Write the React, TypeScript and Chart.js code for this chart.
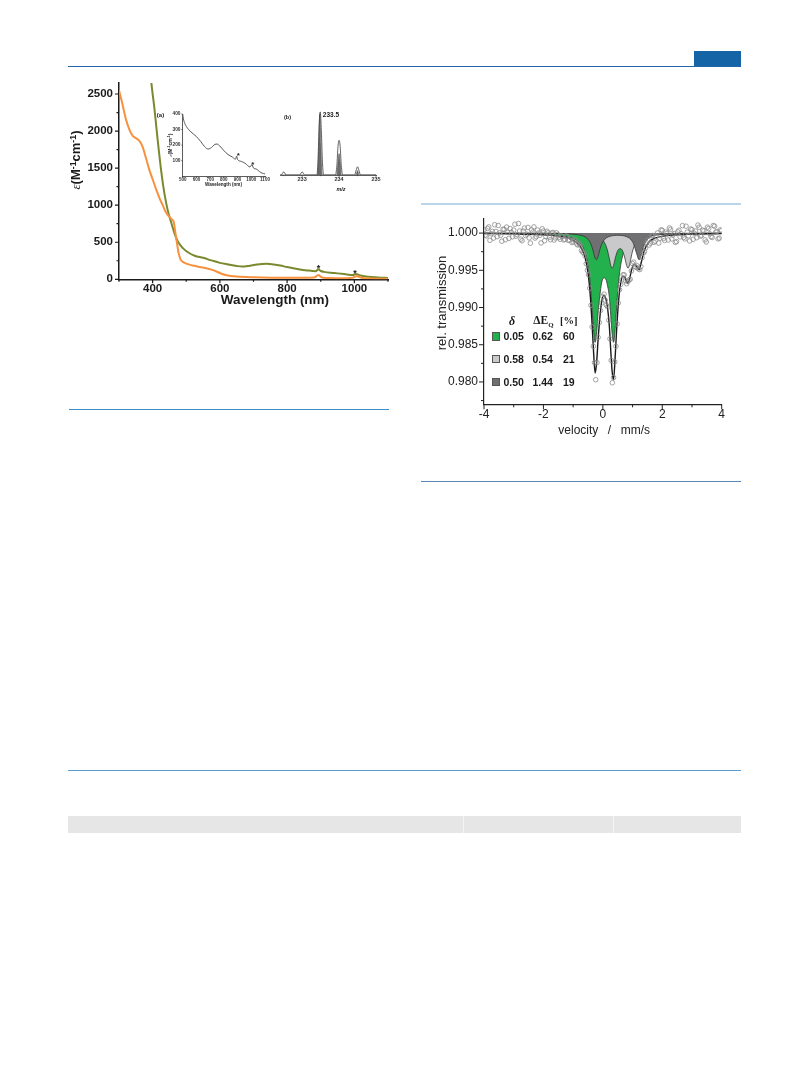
import React, { useEffect, useRef } from "react";
import { Chart, registerables } from "chart.js";

Chart.register(...registerables);

const SANS = "'Liberation Sans', Arial, Helvetica, sans-serif";
const SERIF = "'Liberation Serif', 'Times New Roman', Times, serif";
const INK = "#1a1a1a";
const ORANGE = "#f8913e";
const OLIVE = "#7b892e";

// ===== Main UV-vis spectrum =====
const orangeNm = [300, 310, 320, 330, 340, 350, 360, 370, 380, 390, 400, 410, 420, 430, 440, 450, 458, 463, 468, 472, 477, 483, 490, 500, 520, 540, 560, 575, 590, 605, 620, 650, 700, 800, 880, 888, 893, 899, 906, 950, 995, 1005, 1012, 1020, 1050, 1100];
const orangeEps = [2550, 2370, 2170, 2030, 1940, 1905, 1870, 1790, 1640, 1480, 1350, 1220, 1100, 1000, 900, 840, 805, 770, 620, 500, 360, 270, 235, 212, 185, 165, 148, 130, 105, 75, 55, 38, 28, 20, 24, 45, 58, 38, 20, 15, 22, 42, 38, 22, 12, 8];
const oliveNm = [390, 397, 405, 415, 425, 435, 445, 455, 465, 475, 490, 505, 525, 550, 575, 600, 625, 650, 665, 685, 705, 725, 740, 760, 780, 800, 830, 860, 885, 893, 900, 910, 940, 970, 995, 1005, 1015, 1040, 1070, 1100];
const oliveEps = [3000, 2620, 2320, 1880, 1480, 1160, 930, 770, 620, 510, 420, 365, 318, 290, 255, 222, 200, 180, 172, 180, 195, 208, 210, 200, 185, 165, 140, 120, 110, 135, 112, 100, 85, 70, 58, 72, 55, 35, 25, 18];
const uvXTicks = [400, 600, 800, 1000];
const uvXMinor = [300, 500, 700, 900, 1100];
const uvYTicks = [0, 500, 1000, 1500, 2000, 2500];
const uvYMinor = [250, 750, 1250, 1750, 2250];
const uvStarNm = [893, 1002];
const uvStarEps = [178, 112];

// ===== Inset (a) =====
const insetNm = [500, 505, 515, 530, 560, 600, 630, 660, 685, 710, 735, 750, 770, 800, 830, 860, 885, 893, 900, 930, 960, 990, 1005, 1015, 1040, 1060, 1080, 1100];
const insetEps = [400, 370, 340, 315, 285, 255, 225, 190, 175, 185, 205, 207, 195, 165, 140, 125, 110, 130, 108, 95, 80, 60, 75, 55, 45, 30, 20, 15];
const insetXTicks = [500, 600, 700, 800, 900, 1000, 1100];
const insetYTicks = [100, 200, 300, 400];
const insetStarNm = [905, 1012];
const insetStarEps = [150, 92];

// ===== Inset (b) mass spectrum =====
const msMz = [232.4, 232.44, 232.47, 232.5, 232.53, 232.56, 232.94, 232.97, 233.0, 233.03, 233.06, 233.4, 233.43, 233.46, 233.49, 233.52, 233.55, 233.58, 233.9, 233.94, 233.97, 234.0, 234.03, 234.06, 234.1, 234.42, 234.46, 234.5, 234.54, 234.58, 235.0];
const msExp = [0, 0, 0.03, 0.05, 0.03, 0, 0, 0.03, 0.05, 0.03, 0, 0, 0.25, 0.8, 1.0, 0.7, 0.2, 0, 0, 0.15, 0.45, 0.55, 0.45, 0.15, 0, 0, 0.07, 0.13, 0.07, 0, 0];
const msSimMz = [232.4, 233.42, 233.455, 233.48, 233.505, 233.54, 233.94, 233.97, 234.0, 234.03, 234.06, 234.46, 234.5, 234.54, 235.0];
const msSim = [0, 0, 0.5, 0.97, 0.5, 0, 0, 0.2, 0.34, 0.2, 0, 0, 0.07, 0, 0];
const msXTicks = [233, 234, 235];
const msXMinor = [232.5, 233.5, 234.5];

// ===== Mössbauer spectrum =====
const fitV = [-4, -3, -2, -1.5, -1.2, -1.0, -0.85, -0.7, -0.6, -0.5, -0.42, -0.36, -0.31, -0.26, -0.21, -0.16, -0.1, -0.04, 0.03, 0.1, 0.16, 0.22, 0.27, 0.31, 0.36, 0.41, 0.47, 0.54, 0.6, 0.67, 0.74, 0.8, 0.85, 0.9, 0.97, 1.05, 1.13, 1.22, 1.3, 1.4, 1.55, 1.75, 2.0, 2.5, 3, 4];
const fitGreen = [0.99996, 0.99993, 0.99984, 0.99971, 0.99953, 0.99928, 0.99895, 0.99828, 0.9974, 0.99568,
  0.993, 0.9898, 0.98683, 0.98533, 0.98659, 0.98931, 0.9916, 0.9933, 0.994, 0.9938,
  0.9929, 0.99134, 0.98875, 0.98659, 0.98533, 0.98683, 0.9904, 0.99383, 0.99568, 0.99701,
  0.99782, 0.99828, 0.99856, 0.99878, 0.999, 0.99919, 0.99933, 0.99945, 0.99953, 0.9996,
  0.99969, 0.99976, 0.99982, 0.99989, 0.99993, 0.99996];
const fitLight = [0.99999, 0.99998, 0.99997, 0.99995, 0.99993, 0.99991, 0.99989, 0.99986, 0.99984, 0.9998,
  0.99976, 0.99972, 0.99968, 0.99964, 0.99958, 0.9995, 0.99937, 0.9992, 0.99888, 0.99834,
  0.9976, 0.99653, 0.99561, 0.99528, 0.99566, 0.9965, 0.99735, 0.99785, 0.9979, 0.99755,
  0.99666, 0.99566, 0.99528, 0.99577, 0.9971, 0.99824, 0.99888, 0.99926, 0.99946, 0.99961,
  0.99974, 0.99983, 0.99989, 0.99994, 0.99996, 0.99999];
const fitDark = [0.99999, 0.99998, 0.99997, 0.99994, 0.9999, 0.99986, 0.99979, 0.99966, 0.9995, 0.99918,
  0.99869, 0.99807, 0.99736, 0.99665, 0.99643, 0.9969, 0.99779, 0.9985, 0.999, 0.9993,
  0.99945, 0.99955, 0.99961, 0.99964, 0.99967, 0.99969, 0.9997, 0.9997, 0.99969, 0.99966,
  0.9996, 0.99952, 0.99943, 0.9993, 0.999, 0.9984, 0.99735, 0.99641, 0.9972, 0.99851,
  0.99937, 0.99972, 0.99986, 0.99994, 0.99997, 0.99998];
const fitTotal = [0.99994, 0.9999, 0.99978, 0.9996, 0.99937, 0.99905, 0.99863, 0.99781, 0.99674, 0.99467,
  0.99146, 0.98759, 0.98387, 0.9812, 0.98259, 0.98571, 0.9887, 0.9908, 0.9916, 0.9912,
  0.9899, 0.98742, 0.98397, 0.98152, 0.9803, 0.98302, 0.98745, 0.99138, 0.99328, 0.99421,
  0.99408, 0.99347, 0.99327, 0.99385, 0.99511, 0.99583, 0.99555, 0.99512, 0.99619, 0.99773,
  0.9988, 0.99931, 0.99957, 0.99977, 0.99986, 0.99993];
const dataV = [-4.0, -3.92, -3.84, -3.76, -3.68, -3.6, -3.52, -3.44, -3.36, -3.28,
  -3.2, -3.12, -3.04, -2.96, -2.88, -2.8, -2.72, -2.64, -2.56, -2.48,
  -2.4, -2.32, -2.24, -2.16, -2.08, -2.0, -1.92, -1.84, -1.76, -1.68,
  -1.6, -1.52, -1.44, -1.36, -1.28, -1.2, -1.12, -1.04, -0.96, -0.88,
  -0.8, -0.72, -0.64, -0.56, -0.48, -0.4, -0.32, -0.24, -0.16, -0.08,
  0.0, 0.08, 0.16, 0.24, 0.32, 0.4, 0.48, 0.56, 0.64, 0.72,
  0.8, 0.88, 0.96, 1.04, 1.12, 1.2, 1.28, 1.36, 1.44, 1.52,
  1.6, 1.68, 1.76, 1.84, 1.92, 2.0, 2.08, 2.16, 2.24, 2.32,
  2.4, 2.48, 2.56, 2.64, 2.72, 2.8, 2.88, 2.96, 3.04, 3.12,
  3.2, 3.28, 3.36, 3.44, 3.52, 3.6, 3.68, 3.76, 3.84, 3.92, 4.0];
const dataT = [1.00043, 0.99963, 1.00083, 0.99992, 0.99932, 1.00022, 1.00102, 0.99971, 1.00051, 0.99911,
  1.0001, 1.0006, 0.9995, 1.00119, 0.99979, 1.00028, 0.99897, 1.00067, 0.99986, 0.99935,
  1.00044, 1.00083, 0.99952, 1.0, 0.99868, 1.00028, 0.99956, 1.00004, 0.99911, 1.00009,
  0.99935, 0.99981, 0.99917, 0.99951, 0.99915, 0.99957, 0.99906, 0.99873, 0.99906, 0.99853,
  0.99862, 0.99765, 0.99735, 0.9959, 0.9944, 0.9903, 0.9848, 0.9803, 0.986, 0.9896,
  0.9915, 0.991, 0.9901, 0.9858, 0.9799, 0.9827, 0.9878, 0.9924, 0.9937, 0.9944,
  0.9932, 0.9937, 0.9949, 0.9961, 0.9954, 0.9952, 0.9955, 0.9973, 0.998, 0.99905,
  0.99865, 0.99968, 0.99892, 1.00002, 0.9993, 1.00037, 0.99901, 0.99995, 1.00069, 0.99922,
  0.99994, 0.99886, 1.00038, 0.9999, 0.99941, 1.00093, 0.99964, 1.00055, 0.99916, 1.00027,
  1.00108, 0.99959, 1.00039, 0.99909, 1.0008, 0.99991, 0.99941, 1.00092, 1.00022, 0.99933, 1.00033];
const dataV2 = [-3.96, -3.88, -3.8, -3.72, -3.64, -3.56, -3.48, -3.4, -3.32, -3.24,
  -3.16, -3.08, -3.0, -2.92, -2.84, -2.76, -2.68, -2.6, -2.52, -2.44,
  -2.36, -2.28, -2.2, -2.12, -2.04, -1.96, -1.88, -1.8, -1.72, -1.64,
  -1.56, -1.48, -1.4, -1.32, -1.24, -1.16, -1.08, -1.0, -0.92, -0.84,
  -0.76, -0.68, -0.6, -0.52, -0.44, -0.36, -0.28, -0.2, -0.12, -0.04,
  0.04, 0.12, 0.2, 0.28, 0.36, 0.44, 0.52, 0.6, 0.68, 0.76,
  0.84, 0.92, 1.0, 1.08, 1.16, 1.24, 1.32, 1.4, 1.48, 1.56,
  1.64, 1.72, 1.8, 1.88, 1.96, 2.04, 2.12, 2.2, 2.28, 2.36,
  2.44, 2.52, 2.6, 2.68, 2.76, 2.84, 2.92, 3.0, 3.08, 3.16,
  3.24, 3.32, 3.4, 3.48, 3.56, 3.64, 3.72, 3.8, 3.88, 3.96];
const dataT2 = [0.99973, 1.00063, 0.99903, 1.00022, 1.00112, 0.99952, 1.00002, 0.99891, 1.00051, 1.00081,
  0.9993, 1.0001, 1.0004, 0.99959, 1.00128, 0.99918, 1.00027, 0.99966, 1.00076, 0.99865,
  1.00013, 0.99933, 1.00041, 0.9997, 1.00058, 0.99897, 1.00025, 0.99943, 1.0, 0.99907,
  1.00003, 0.99939, 0.99964, 0.99908, 0.99961, 0.99902, 0.9994, 0.99885, 0.99905, 0.9984,
  0.9984, 0.99745, 0.99694, 0.995, 0.9926, 0.9874, 0.9826, 0.9826, 0.988, 0.9906,
  0.9918, 0.9903, 0.9883, 0.9829, 0.9806, 0.9848, 0.9906, 0.9931, 0.9944, 0.9936,
  0.9935, 0.9938, 0.9959, 0.9955, 0.9956, 0.9951, 0.9967, 0.9975, 0.9987, 0.9984,
  0.99965, 0.99876, 0.99958, 0.99866, 1.00043, 0.99929, 1.00013, 0.99907, 1.0005, 0.99973,
  0.99875, 1.00017, 0.99949, 1.001, 0.99922, 1.00013, 0.99894, 1.00046, 0.99997, 0.99938,
  1.00079, 0.9997, 1.0003, 0.99881, 1.00061, 0.99952, 1.00102, 1.00012, 0.99923, 1.00043];
const mbXTicks = [-4, -2, 0, 2, 4];
const mbXMinor = [-3, -1, 1, 3];
const mbYTicks = [0.98, 0.985, 0.99, 0.995, 1.0];
const mbYMinor = [0.9775, 0.9825, 0.9875, 0.9925, 0.9975];
const mbLegendDelta = ["0.05", "0.58", "0.50"];
const mbLegendDEq = ["0.62", "0.54", "1.44"];
const mbLegendPct = ["60", "21", "19"];
const GREEN = "#22b14c";
const LIGHT = "#c9c9cb";
const DARK = "#707072";
const mbLegendColors = [GREEN, LIGHT, DARK];

// ===== helpers =====
const pts = (xs: number[], ys: number[]) => xs.map((x, i) => ({ x, y: ys[i] }));

function makeTickPlugin(spec: any) {
  return {
    id: "tickMarks",
    afterDraw(chart: any) {
      const { ctx, chartArea } = chart;
      const xs = chart.scales.x;
      const ys = chart.scales.y;
      ctx.save();
      ctx.strokeStyle = spec.color || INK;
      ctx.lineWidth = spec.width || 1;
      ctx.beginPath();
      const b = chartArea.bottom;
      const l = chartArea.left;
      const xm = (vals: number[], len: number) =>
        vals.forEach((v) => {
          const p = xs.getPixelForValue(v);
          ctx.moveTo(p, b);
          ctx.lineTo(p, b + len);
        });
      const ym = (vals: number[], len: number) =>
        vals.forEach((v) => {
          const p = ys.getPixelForValue(v);
          ctx.moveTo(l, p);
          ctx.lineTo(l - len, p);
        });
      xm(spec.xMajor || [], spec.major);
      xm(spec.xMinor || [], spec.minor);
      if (spec.yMajor) {
        ym(spec.yMajor, spec.major);
        ym(spec.yMinor || [], spec.minor);
      }
      ctx.stroke();
      ctx.restore();
    },
  };
}

function makeStarPlugin(xsData: number[], ysData: number[], size: number) {
  return {
    id: "starMarks",
    afterDatasetsDraw(chart: any) {
      const { ctx } = chart;
      const xs = chart.scales.x;
      const ys = chart.scales.y;
      ctx.save();
      ctx.fillStyle = INK;
      ctx.font = `bold ${size}px ${SANS}`;
      ctx.textAlign = "center";
      ctx.textBaseline = "alphabetic";
      xsData.forEach((x, i) => {
        ctx.fillText("*", xs.getPixelForValue(x), ys.getPixelForValue(ysData[i]) + size * 0.58);
      });
      ctx.restore();
    },
  };
}

function axis(o: any) {
  return {
    type: "linear",
    display: o.display === undefined ? true : o.display,
    min: o.min,
    max: o.max,
    grid: { display: false, drawTicks: false },
    border: { display: true, color: o.color || INK, width: o.borderW || 1.5 },
    afterBuildTicks: (s: any) => {
      s.ticks = o.ticks.map((value: number) => ({ value }));
    },
    afterFit: (s: any) => {
      if (o.fitKey) s[o.fitKey] = o.fitVal;
    },
    ticks: {
      padding: o.padding,
      color: o.color || INK,
      font: { family: SANS, size: o.size, weight: o.weight || "normal" },
      maxRotation: 0,
      minRotation: 0,
      autoSkip: false,
      callback: o.fmt || ((v: any) => String(v)),
    },
  };
}

function baseOptions(padding: any, scales: any) {
  return {
    responsive: false,
    animation: false,
    devicePixelRatio: 1,
    events: [],
    layout: { padding },
    plugins: { legend: { display: false }, tooltip: { enabled: false } },
    scales,
  };
}

const uvConfig = () => ({
  type: "line",
  data: {
    datasets: [
      { data: pts(orangeNm, orangeEps), borderColor: ORANGE, borderWidth: 2, pointRadius: 0, cubicInterpolationMode: "monotone", fill: false },
      { data: pts(oliveNm, oliveEps), borderColor: OLIVE, borderWidth: 2, pointRadius: 0, cubicInterpolationMode: "monotone", fill: false },
    ],
  },
  options: baseOptions({ top: 10, right: 12, left: 0, bottom: 0 }, {
    x: axis({ min: 300, max: 1100, ticks: uvXTicks, padding: 2.5, size: 11.5, weight: "bold", fitKey: "height", fitVal: 30.7 }),
    y: axis({ min: 0, max: 2650, ticks: uvYTicks, padding: 6, size: 11.5, weight: "bold", fitKey: "width", fitVal: 59 }),
  }),
  plugins: [
    makeTickPlugin({ xMajor: uvXTicks, xMinor: uvXMinor, yMajor: uvYTicks, yMinor: uvYMinor, major: 4, minor: 2.5, width: 1.2 }),
    makeStarPlugin(uvStarNm, uvStarEps, 9),
  ],
});

const insetAConfig = () => ({
  type: "line",
  data: {
    datasets: [
      { data: pts(insetNm, insetEps), borderColor: "#555", borderWidth: 1, pointRadius: 0, cubicInterpolationMode: "monotone", fill: false },
    ],
  },
  options: baseOptions({ top: 14, right: 10, left: 0, bottom: 0 }, {
    x: axis({ min: 500, max: 1100, ticks: insetXTicks, padding: 0.7, size: 4.5, weight: "bold", fitKey: "height", fitVal: 18.7, borderW: 0.8, color: "#333" }),
    y: axis({ min: 0, max: 400, ticks: insetYTicks, padding: 2.2, size: 4.8, weight: "bold", fitKey: "width", fitVal: 32.7, borderW: 0.8, color: "#333" }),
  }),
  plugins: [
    makeTickPlugin({ xMajor: insetXTicks, xMinor: [], yMajor: insetYTicks, yMinor: [], major: 1.5, minor: 1, width: 0.6, color: "#333" }),
    makeStarPlugin(insetStarNm, insetStarEps, 8),
  ],
});

const insetBConfig = () => ({
  type: "line",
  data: {
    datasets: [
      { data: pts(msMz, msExp), borderColor: "#3a3a3a", borderWidth: 0.8, pointRadius: 0, cubicInterpolationMode: "monotone", fill: false, order: 0 },
      { data: pts(msSimMz, msSim), borderColor: "#555", borderWidth: 0.6, backgroundColor: "#6a6a6a", pointRadius: 0, cubicInterpolationMode: "monotone", fill: { value: 0 }, order: 1 },
    ],
  },
  options: baseOptions({ top: 10, right: 9, left: 5, bottom: 0 }, {
    x: axis({ min: 232.4, max: 235, ticks: msXTicks, padding: 1, size: 5.5, weight: "bold", fitKey: "height", fitVal: 20, borderW: 0.8, color: "#333" }),
    y: axis({ min: 0, max: 1.03, ticks: [0, 1], padding: 1, size: 5, display: false }),
  }),
  plugins: [
    makeTickPlugin({ xMajor: msXTicks, xMinor: msXMinor, major: 2, minor: 1.2, width: 0.6, color: "#333" }),
  ],
});

const mbConfig = () => ({
  type: "line",
  data: {
    datasets: [
      { data: pts(dataV, dataT).concat(pts(dataV2, dataT2)), showLine: false, pointRadius: 2.3, pointBorderWidth: 0.8, pointBorderColor: "#8c8c8c", pointBackgroundColor: "rgba(255,255,255,0)", order: 0 },
      { data: pts(fitV, fitTotal), borderColor: "#1a1a1a", borderWidth: 1.4, pointRadius: 0, cubicInterpolationMode: "monotone", fill: false, order: 1 },
      { data: pts(fitV, fitDark), borderColor: "#333", borderWidth: 0.8, backgroundColor: DARK, pointRadius: 0, cubicInterpolationMode: "monotone", fill: { value: 1 }, order: 2 },
      { data: pts(fitV, fitLight), borderColor: "#333", borderWidth: 0.8, backgroundColor: LIGHT, pointRadius: 0, cubicInterpolationMode: "monotone", fill: { value: 1 }, order: 3 },
      { data: pts(fitV, fitGreen), borderColor: "#333", borderWidth: 0.8, backgroundColor: GREEN, pointRadius: 0, cubicInterpolationMode: "monotone", fill: { value: 1 }, order: 4 },
    ],
  },
  options: baseOptions({ top: 8, right: 13.3, left: 0, bottom: 0 }, {
    x: axis({ min: -4, max: 4, ticks: mbXTicks, padding: 3.5, size: 12, fitKey: "height", fitVal: 30.7, borderW: 1.2, color: "#222" }),
    y: axis({ min: 0.977, max: 1.002, ticks: mbYTicks, padding: 6, size: 12, fitKey: "width", fitVal: 54, borderW: 1.2, color: "#222", fmt: (v: any) => Number(v).toFixed(3) }),
  }),
  plugins: [
    makeTickPlugin({ xMajor: mbXTicks, xMinor: mbXMinor, yMajor: mbYTicks, yMinor: mbYMinor, major: 5, minor: 3, width: 1, color: "#222" }),
  ],
});

function ChartCanvas({ left, top, width, height, make }: { left: number; top: number; width: number; height: number; make: () => any }) {
  const ref = useRef<HTMLCanvasElement | null>(null);
  useEffect(() => {
    if (!ref.current) return;
    const chart = new Chart(ref.current, make());
    return () => chart.destroy();
  }, [make]);
  return <canvas ref={ref} width={width} height={height} style={{ position: "absolute", left, top, width, height }} />;
}

function Txt({ x, y, size, weight = "normal", italic = false, family = SANS, rotate = 0, color = INK, anchor = "center", children }: any) {
  const tx = anchor === "left" ? "0" : anchor === "right" ? "-100%" : "-50%";
  return (
    <div
      style={{
        position: "absolute",
        left: x,
        top: y,
        transform: `translate(${tx},-50%) rotate(${rotate}deg)`,
        fontSize: size,
        fontWeight: weight,
        fontStyle: italic ? "italic" : "normal",
        fontFamily: family,
        color,
        whiteSpace: "pre",
        lineHeight: 1,
      }}
    >
      {children}
    </div>
  );
}

function Bar({ x, y, w, h, c }: any) {
  return <div style={{ position: "absolute", left: x, top: y, width: w, height: h, background: c }} />;
}

const supStyle: any = { fontSize: "0.68em", verticalAlign: "0.45em", lineHeight: 0 };

function EpsTitle() {
  return (
    <>
      <span style={{ fontStyle: "italic", fontWeight: "normal", fontFamily: SERIF }}>ε</span>
      {"(M"}
      <span style={supStyle}>-1</span>
      {"cm"}
      <span style={supStyle}>-1</span>
      {")"}
    </>
  );
}

export default function App() {
  return (
    <div style={{ position: "absolute", left: 0, top: 0, width: 809, height: 1067, background: "#fff", overflow: "hidden" }}>
      {/* page decorations */}
      <Bar x={694} y={51} w={47} h={15} c="#1564a6" />
      <Bar x={68} y={65.5} w={673} h={1.5} c="#2166ab" />
      <Bar x={69} y={408.5} w={320} h={1.5} c="#3a8dc6" />
      <Bar x={421} y={202.5} w={320} h={2} c="#bcd5ea" />
      <Bar x={421} y={481} w={320} h={1} c="#5b86b8" />
      <Bar x={68} y={769.5} w={673} h={1.5} c="#5a9bd0" />
      <Bar x={68} y={816} w={673} h={17} c="#e6e6e6" />
      <Bar x={463} y={816} w={1} h={17} c="#f4f4f4" />
      <Bar x={613} y={816} w={1} h={17} c="#f4f4f4" />

      {/* UV-vis main chart */}
      <ChartCanvas left={60} top={70} width={340} height={240} make={uvConfig} />
      <Txt x={275} y={299.5} size={13.5} weight="bold">Wavelength (nm)</Txt>
      <Txt x={75} y={160} size={13} weight="bold" rotate={-90}>
        <EpsTitle />
      </Txt>

      {/* Inset (a) */}
      <ChartCanvas left={150} top={100} width={125} height={95} make={insetAConfig} />
      <Txt x={160.5} y={115} size={6} weight="bold">(a)</Txt>
      <Txt x={223.5} y={184.5} size={4.6} weight="bold">Wavelength (nm)</Txt>
      <Txt x={169.5} y={145} size={5} weight="bold" rotate={-90}>
        <EpsTitle />
      </Txt>

      {/* Inset (b) */}
      <ChartCanvas left={275} top={100} width={110} height={95} make={insetBConfig} />
      <Txt x={287.5} y={118.3} size={5.5} weight="bold">(b)</Txt>
      <Txt x={322.8} y={115} size={6.5} weight="bold" anchor="left">233.5</Txt>
      <Txt x={341} y={190} size={5.5} weight="bold" italic>m/z</Txt>

      {/* Mössbauer chart */}
      <ChartCanvas left={430} top={205} width={305} height={230} make={mbConfig} />
      <Txt x={441} y={303} size={13} rotate={-90} color="#222">rel. transmission</Txt>
      <Txt x={558.3} y={429.5} size={12} anchor="left" color="#222">velocity</Txt>
      <Txt x={609.4} y={429.5} size={12} color="#222">/</Txt>
      <Txt x={620.7} y={429.5} size={12} anchor="left" color="#222">mm/s</Txt>

      {/* Mössbauer legend */}
      <Txt x={512} y={321} size={12} weight="bold" italic family={SERIF}>δ</Txt>
      <Txt x={533.3} y={320.5} size={11.5} weight="bold" family={SERIF} anchor="left">
        {"ΔE"}
        <span style={{ fontSize: "0.6em", verticalAlign: "-0.35em", lineHeight: 0 }}>Q</span>
      </Txt>
      <Txt x={568.7} y={320.5} size={10.5} weight="bold" family={SERIF}>[%]</Txt>
      {mbLegendColors.map((c, i) => {
        const cy = [336.3, 359, 382][i];
        return (
          <React.Fragment key={i}>
            <div style={{ position: "absolute", left: 491.7, top: cy - 4.3, width: 8.6, height: 8.6, background: c, boxSizing: "border-box", border: "0.8px solid #555" }} />
            <Txt x={503.5} y={cy} size={10.5} weight="bold" anchor="left">{mbLegendDelta[i]}</Txt>
            <Txt x={532.5} y={cy} size={10.5} weight="bold" anchor="left">{mbLegendDEq[i]}</Txt>
            <Txt x={563} y={cy} size={10.5} weight="bold" anchor="left">{mbLegendPct[i]}</Txt>
          </React.Fragment>
        );
      })}
    </div>
  );
}
